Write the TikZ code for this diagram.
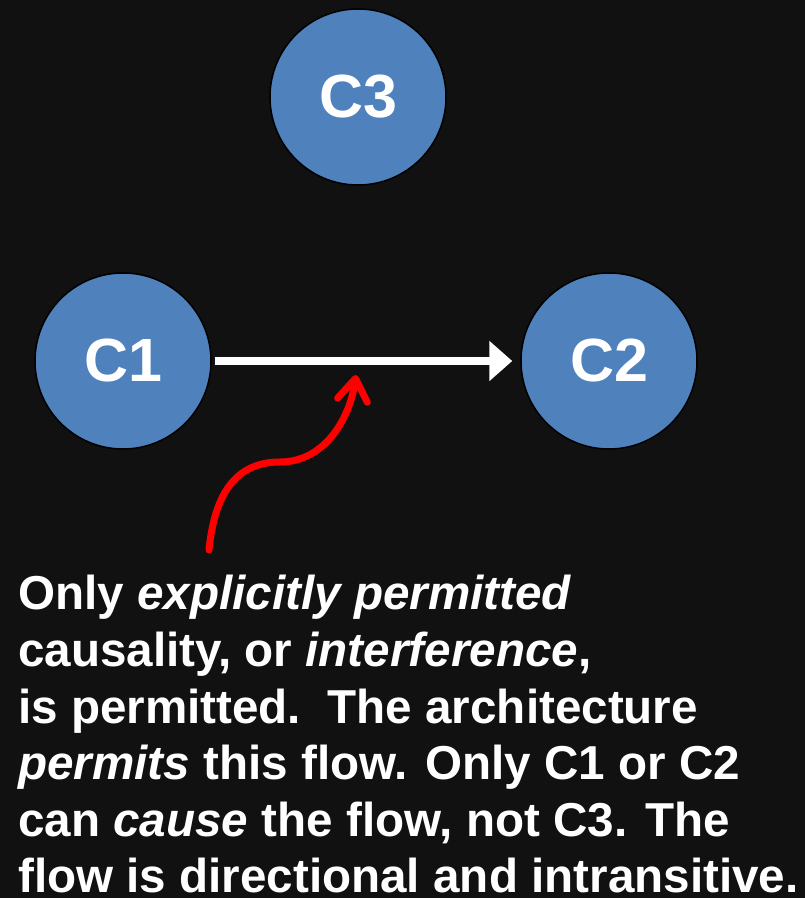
\documentclass[tikz,border=0pt]{standalone}
\usepackage{fontspec}
\setmainfont{Liberation Sans}
\usetikzlibrary{arrows.meta}
\definecolor{bg}{HTML}{111111}
\definecolor{cblue}{HTML}{4F81BD}
\begin{document}
\begin{tikzpicture}[x=1pt,y=1pt,
  comp/.style={circle,draw=black,line width=1.5pt,fill=cblue,minimum size=176pt,inner sep=0pt,
    text=white,font=\fontsize{61}{61}\selectfont\bfseries},
  txt/.style={anchor=base west,inner sep=0pt,text=white,font=\fontsize{47.6}{56}\selectfont\bfseries},
  flow/.style={draw=white,line width=8pt,-{Triangle[length=23pt,width=39pt]}},
  pointer/.style={draw=red,line width=7pt,line cap=round,-{Straight Barb[length=22pt,width=30pt,round]}}]
\fill[bg] (0,0) rectangle (805,898);
\useasboundingbox (0,0) rectangle (805,898);
\node[comp] (c3) at (358,801) {C3};
\node[comp] (c1) at (123,537) {C1};
\node[comp] (c2) at (609,537) {C2};
\draw[flow,shorten <=3pt,shorten >=8pt] (c1) -- (c2);
\coordinate (ps) at (209,348);
\coordinate (pm) at (280,436);
\coordinate (pe) at (356,523);
\draw[pointer] (ps) .. controls (215,410) and (240,436) .. (pm) .. controls (325,436) and (350,480) .. (pe);
\node[txt] (t1) at (18,288) {Only \textit{explicitly permitted}};
\node[txt] (t2) at (18,231.4) {causality, or \textit{interference},};
\node[txt] (t3) at (18,174.8) {is permitted.\ \ The architecture};
\node[txt] (t4) at (18,118.2) {\textit{permits} this flow. Only C1 or C2};
\node[txt] (t5) at (18,61.6) {can \textit{cause} the flow, not C3. The};
\node[txt] (t6) at (18,5.5) {flow is directional and intransitive.};
\end{tikzpicture}
\end{document}
